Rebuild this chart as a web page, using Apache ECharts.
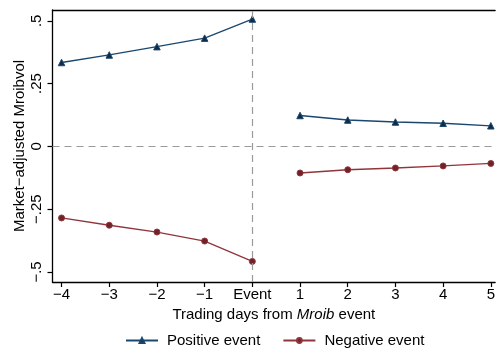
<!DOCTYPE html>
<html>
<head>
<meta charset="utf-8">
<script src="https://cdn.jsdelivr.net/npm/echarts@6/dist/echarts.min.js"></script>
<style>
  html, body { margin: 0; padding: 0; background: #fff; }
  #chart { width: 498px; height: 351px; }
</style>
</head>
<body>
<div id="chart"></div>
<script>
// Trading days relative to the Mroib event (0 = event day)
const days = [-4, -3, -2, -1, 0, 1, 2, 3, 4, 5];
const dayLabels = ['\u22124', '\u22123', '\u22122', '\u22121', 'Event', '1', '2', '3', '4', '5'];

// Market-adjusted Mroibvol around positive / negative events
const positiveEvent = [0.334, 0.364, 0.397, 0.431, 0.507, 0.123, 0.105, 0.097, 0.092, 0.082];
const negativeEvent = [-0.285, -0.314, -0.341, -0.377, -0.458, -0.106, -0.093, -0.086, -0.078, -0.068];

const yTicks = [-0.5, -0.25, 0, 0.25, 0.5];
const yTickLabels = ['\u2212.5', '\u2212.25', '0', '.25', '.5'];

const NAVY = '#1a476f';
const MAROON = '#90353b';
const FONT = 'Liberation Sans, Arial, Helvetica, sans-serif';
const FS = 15;

// Split each series at the event so the line is broken between day 0 and day 1
function segment(values, pre) {
  const out = [];
  days.forEach((d, i) => {
    if ((pre && d <= 0) || (!pre && d > 0)) out.push([d, values[i]]);
  });
  return out;
}

function lineSeries(name, values, pre, color, symbol, symbolSize, symbolColor) {
  return {
    name: name,
    type: 'line',
    data: segment(values, pre),
    symbol: symbol,
    symbolSize: symbolSize,
    color: color,
    lineStyle: { color: color, width: 1.3 },
    itemStyle: { color: symbolColor, borderColor: color, borderWidth: 1 },
    emphasis: { disabled: true },
    z: 3
  };
}

const chart = echarts.init(document.getElementById('chart'), null, { renderer: 'canvas' });

const series = [
  lineSeries('Positive event', positiveEvent, true, NAVY, 'triangle', 6.5, '#0f2a45'),
  lineSeries('Positive event', positiveEvent, false, NAVY, 'triangle', 6.5, '#0f2a45'),
  lineSeries('Negative event', negativeEvent, true, MAROON, 'circle', 6, '#6e2328'),
  lineSeries('Negative event', negativeEvent, false, MAROON, 'circle', 6, '#6e2328')
];

// Reference lines: zero level and the event day
series.push({
  type: 'line',
  data: [],
  silent: true,
  markLine: {
    silent: true,
    symbol: 'none',
    label: { show: false },
    lineStyle: { color: '#9a9a9a', type: [7, 5], width: 1.2 },
    data: [{ yAxis: 0 }, { xAxis: 0 }]
  },
  z: 1
});

chart.setOption({
  animation: false,
  textStyle: { fontFamily: FONT },
  grid: { left: 52.5, top: 10, right: 0, bottom: 69 },
  legend: {
    top: 333,
    left: 125,
    padding: 0,
    itemWidth: 32,
    itemHeight: 6,
    itemGap: 22,
    textStyle: { fontFamily: FONT, fontSize: FS, color: '#000', padding: [0, 0, 0, 4] },
    data: ['Positive event', 'Negative event']
  },
  xAxis: [{
    type: 'value',
    min: -4.19,
    max: 5.09,
    splitLine: { show: false },
    axisLine: { onZero: false, lineStyle: { color: '#000', width: 1.3 } },
    axisTick: { customValues: days, length: 5, lineStyle: { color: '#000', width: 1.2 } },
    axisLabel: {
      customValues: days,
      formatter: v => dayLabels[days.indexOf(Math.round(v))],
      fontSize: FS,
      color: '#000',
      margin: 5
    },
    name: '{n|Trading days from }{i|Mroib}{n| event}',
    nameLocation: 'middle',
    nameGap: 24,
    nameTextStyle: {
      rich: {
        n: { fontSize: FS, color: '#000', fontFamily: FONT },
        i: { fontSize: FS, color: '#000', fontFamily: FONT, fontStyle: 'italic' }
      }
    }
  }, {
    // top border of the plot region
    type: 'value',
    position: 'top',
    min: -4.19,
    max: 5.09,
    splitLine: { show: false },
    axisLine: { onZero: false, lineStyle: { color: '#000', width: 1.3 } },
    axisTick: { show: false },
    axisLabel: { show: false }
  }],
  yAxis: {
    type: 'value',
    min: -0.54,
    max: 0.543,
    splitLine: { show: false },
    axisLine: { show: true, onZero: false, lineStyle: { color: '#000', width: 1.3 } },
    axisTick: { show: true, customValues: yTicks, length: 5, lineStyle: { color: '#000', width: 1.2 } },
    axisLabel: {
      customValues: yTicks,
      formatter: v => yTickLabels[yTicks.indexOf(Math.round(v * 100) / 100)],
      rotate: 90,
      fontSize: FS,
      color: '#000',
      margin: 8
    },
    name: 'Market\u2212adjusted Mroibvol',
    nameLocation: 'middle',
    nameMoveOverlap: false,
    nameGap: 25,
    nameTextStyle: { fontSize: FS, color: '#000', fontFamily: FONT }
  },
  series: series
});
</script>
</body>
</html>
